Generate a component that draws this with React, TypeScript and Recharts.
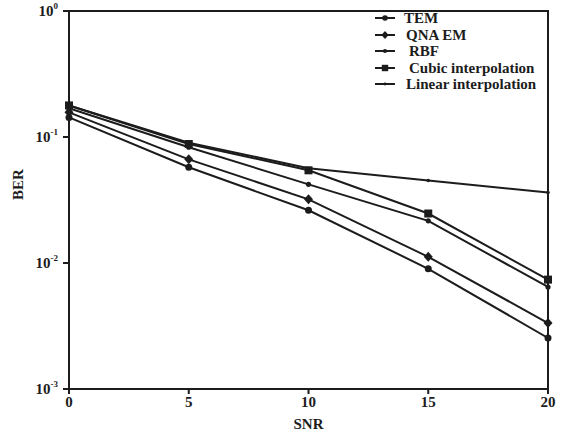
import { LineChart, Line, XAxis, YAxis, ReferenceArea } from "recharts"

const snr = [0, 5, 10, 15, 20]
const tem = [0.143, 0.0575, 0.0262, 0.009, 0.00254]
const qnaEm = [0.157, 0.0665, 0.032, 0.0112, 0.00334]
const rbf = [0.169, 0.083, 0.0421, 0.0216, 0.00645]
const cubic = [0.178, 0.088, 0.0544, 0.0247, 0.00738]
const linear = [0.178, 0.09, 0.0565, 0.0452, 0.0362]

const xTicks = [0, 5, 10, 15, 20]
const yTicks = [0.001, 0.01, 0.1, 1]
const yTickExp = ["-3", "-2", "-1", "0"]

const seriesNames = ["TEM", "QNA EM", "RBF", "Cubic interpolation", "Linear interpolation"]

const data = snr.map((s, i) => ({
  snr: s,
  tem: tem[i],
  qna: qnaEm[i],
  rbf: rbf[i],
  cubic: cubic[i],
  linear: linear[i],
}))

const ink = "#1c1c1c"
const font = "'Liberation Serif', 'Times New Roman', serif"

type Shape = "circle" | "diamond" | "dot" | "square" | "small"

const marker = (shape: Shape, cx: number, cy: number, key?: string, k = 1) => {
  if (shape === "circle") return <circle key={key} cx={cx} cy={cy} r={3.5 * k} fill={ink} />
  if (shape === "dot") return <circle key={key} cx={cx} cy={cy} r={2.6 * k} fill={ink} />
  if (shape === "small") return <circle key={key} cx={cx} cy={cy} r={1.8 * k} fill={ink} />
  if (shape === "square") return <rect key={key} x={cx - 4 * k} y={cy - 4 * k} width={8 * k} height={8 * k} fill={ink} />
  return (
    <polygon
      key={key}
      points={`${cx},${cy - 5 * k} ${cx + 4.5 * k},${cy} ${cx},${cy + 5 * k} ${cx - 4.5 * k},${cy}`}
      fill={ink}
    />
  )
}

const makeDot = (shape: Shape) => (props: any) => {
  const { cx, cy, index } = props
  return marker(shape, cx, cy, `${shape}-${index}`)
}

const shapes: Shape[] = ["circle", "diamond", "dot", "square", "small"]
const legendIndent = [0, 2, 5, 5, 2]

const YTick = (props: any) => {
  const { x, y, payload } = props
  const i = yTicks.indexOf(payload.value)
  return (
    <text x={x - 3} y={y + 5} textAnchor="end" fontFamily={font} fontWeight="bold" fontSize={15} fill={ink}>
      10
      <tspan dy={-7} fontSize={9}>
        {yTickExp[i]}
      </tspan>
    </text>
  )
}

const LegendBox = () => (
  <div
    style={{
      position: "absolute",
      left: 374,
      top: 10,
      fontFamily: font,
      fontWeight: "bold",
      fontSize: 15,
      color: ink,
      lineHeight: "16.5px",
    }}
  >
    {seriesNames.map((n, i) => (
      <div key={n} style={{ display: "flex", alignItems: "center", height: 16.5, whiteSpace: "nowrap" }}>
        <svg width={22} height={12} style={{ marginRight: 8 + legendIndent[i] }}>
          <line x1={1} y1={6} x2={21} y2={6} stroke={ink} strokeWidth={2} />
          {marker(shapes[i], 11, 6, undefined, 0.8)}
        </svg>
        <span>{n}</span>
      </div>
    ))}
  </div>
)

export default function App() {
  return (
    <div style={{ position: "absolute", left: 0, top: 0, width: 562, height: 433 }}>
      <LineChart width={562} height={433} data={data} margin={{ top: 11, right: 14, left: 0, bottom: 0 }}>
        <XAxis
          dataKey="snr"
          type="number"
          domain={[0, 20]}
          ticks={xTicks}
          stroke={ink}
          strokeWidth={2}
          tickSize={5}
          height={44}
          tick={{ fontFamily: font, fontWeight: "bold", fontSize: 15, fill: ink }}
          label={{ value: "SNR", position: "insideBottom", offset: 4, fontFamily: font, fontWeight: "bold", fontSize: 15, fill: ink }}
        />
        <YAxis
          type="number"
          scale="log"
          domain={[0.001, 1]}
          ticks={yTicks}
          allowDataOverflow
          stroke={ink}
          strokeWidth={2}
          tickSize={6}
          width={69}
          tick={<YTick />}
          label={{ value: "BER", angle: -90, position: "insideLeft", offset: 18, fontFamily: font, fontWeight: "bold", fontSize: 15, fill: ink }}
        />
        <ReferenceArea x1={0} x2={20} y1={0.001} y2={1} fill="none" stroke={ink} strokeWidth={2} ifOverflow="visible" />
        <Line dataKey="tem" name="TEM" stroke={ink} strokeWidth={2} dot={makeDot("circle")} isAnimationActive={false} />
        <Line dataKey="qna" name="QNA EM" stroke={ink} strokeWidth={2} dot={makeDot("diamond")} isAnimationActive={false} />
        <Line dataKey="rbf" name="RBF" stroke={ink} strokeWidth={2} dot={makeDot("dot")} isAnimationActive={false} />
        <Line dataKey="cubic" name="Cubic interpolation" stroke={ink} strokeWidth={2} dot={makeDot("square")} isAnimationActive={false} />
        <Line dataKey="linear" name="Linear interpolation" stroke={ink} strokeWidth={2} dot={makeDot("small")} isAnimationActive={false} />
      </LineChart>
      <LegendBox />
    </div>
  )
}
